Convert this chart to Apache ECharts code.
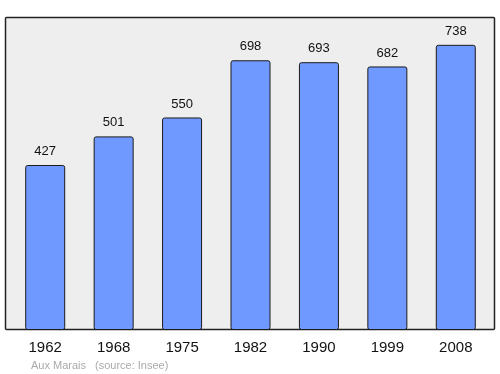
<!DOCTYPE html>
<html><head><meta charset="utf-8">
<script src="https://cdn.jsdelivr.net/npm/echarts@6/dist/echarts.min.js"></script>
<style>html,body{margin:0;padding:0;background:#fff}#c{width:500px;height:374px}</style>
</head><body><div id="c"></div>
<script>
const years = ['1962','1968','1975','1982','1990','1999','2008'];
const population = [427,501,550,698,693,682,738];
const footerPlace = 'Aux Marais';
const footerSource = '(source: Insee)';

const chart = echarts.init(document.getElementById('c'));
chart.setOption({
  animation: false,
  graphic: [
    {type:'rect', z:-1, shape:{x:5.5,y:17.5,width:489,height:312,r:1}, style:{fill:'#eeeeee',stroke:'#222',lineWidth:1.5}},
    {type:'text', left:31, top:360, style:{text:footerPlace, fill:'#aaaaaa', font:'11px "Liberation Sans", Arial, sans-serif'}},
    {type:'text', left:95, top:360, style:{text:footerSource, fill:'#aaaaaa', font:'11px "Liberation Sans", Arial, sans-serif'}}
  ],
  grid: {left:11, right:10, top:17, bottom:44},
  xAxis: {type:'category', data:years, axisLine:{show:false}, axisTick:{show:false},
    axisLabel:{fontSize:15, color:'#111', margin:10, fontFamily:'"Liberation Sans", Arial, sans-serif'}},
  yAxis: {type:'value', min:0, max:810, show:false, splitLine:{show:false}},
  series: [{type:'bar', data:population, barWidth:40,
    itemStyle:{color:'#7099ff', borderColor:'#1a1a1a', borderWidth:1, borderRadius:2},
    label:{show:true, position:'top', distance:7, fontSize:13, color:'#111', fontFamily:'"Liberation Sans", Arial, sans-serif'}}]
});
</script></body></html>
